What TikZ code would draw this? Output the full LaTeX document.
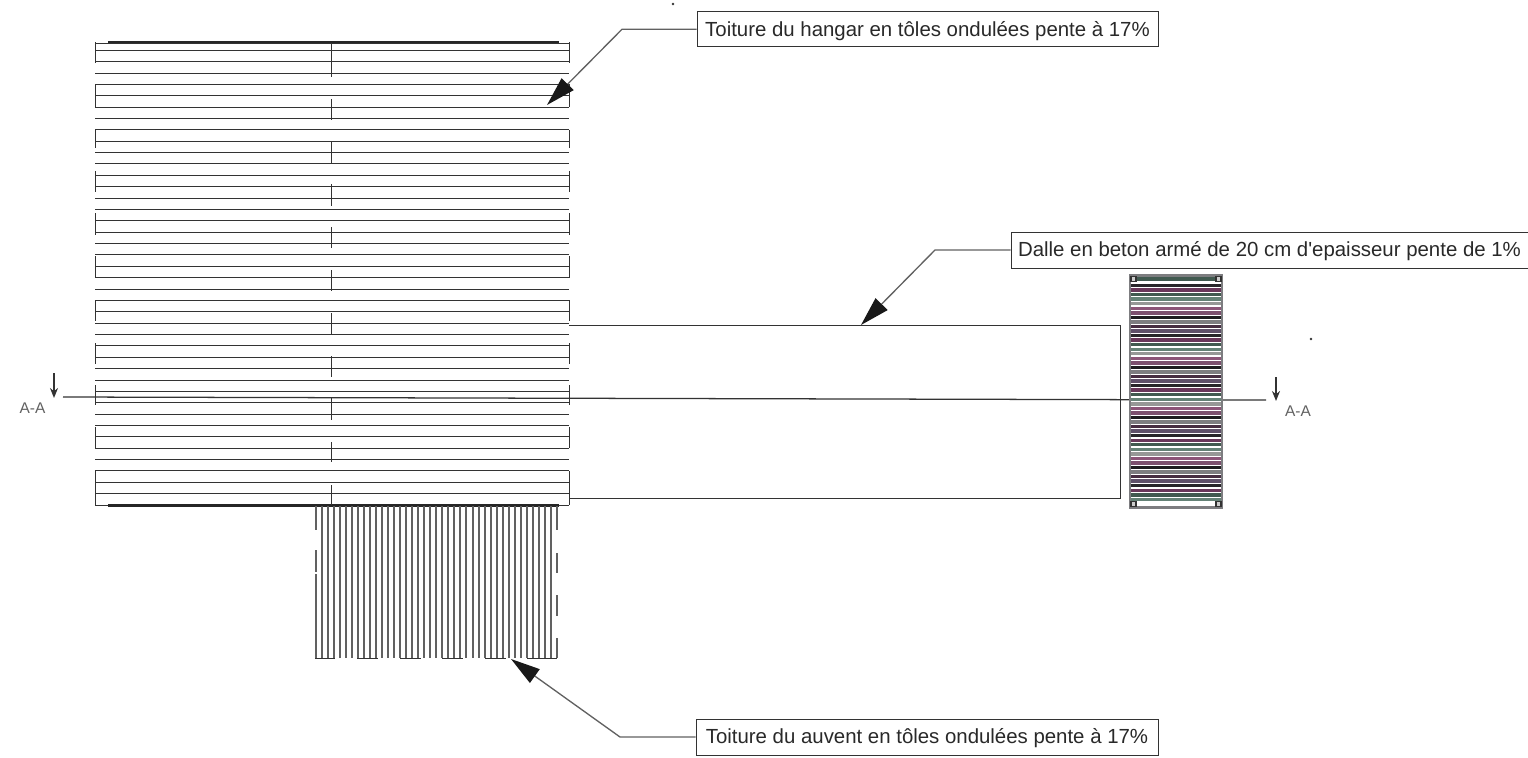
\documentclass[tikz,border=0pt]{standalone}
\usepackage{fontspec}
\setmainfont{Liberation Sans}[Ligatures=TeXOff]
\usetikzlibrary{arrows.meta}
\definecolor{ink}{gray}{0.2}
\definecolor{soft}{gray}{0.38}
\definecolor{txt}{gray}{0.16}
\definecolor{s0}{RGB}{70,45,65}
\definecolor{s1}{RGB}{125,80,110}
\definecolor{s2}{RGB}{100,130,118}
\definecolor{s3}{RGB}{40,38,42}
\definecolor{s4}{RGB}{125,125,128}
\definecolor{s5}{RGB}{140,85,120}
\definecolor{s6}{RGB}{65,90,80}
\definecolor{s7}{RGB}{95,80,105}
\definecolor{s8}{RGB}{30,28,30}
\definecolor{s9}{RGB}{150,152,150}
\definecolor{s10}{RGB}{105,55,90}
\tikzset{
  plan/.style={draw=ink,line width=1.15pt},
  thinplan/.style={draw=soft,line width=1.5pt},
  heavy/.style={draw=black!85,line width=1.7pt},
  labelbox/.style={draw=ink,line width=0.75pt,fill=white,inner sep=0pt,text height=11pt,text depth=0.7pt,font=\fontsize{15.3pt}{18pt}\selectfont,text=txt},
  leader/.style={draw=soft,line width=1pt,-{Triangle[length=22pt,width=12.5pt,color=black!90]}},
  secttext/.style={font=\fontsize{11.6pt}{13pt}\selectfont,text=soft,inner sep=0pt},
  cutarrow/.style={draw=ink,line width=1.2pt,-{Stealth[length=7.5pt,width=6pt]}}
}
\begin{document}
\begin{tikzpicture}[x=0.75pt,y=-0.75pt]
\useasboundingbox (0,0) rectangle (1528,757);
% Hangar roof
\foreach \k in {0,...,40}{
  \pgfmathsetmacro\yy{floor(50.3+11.37*\k)+0.5}
  \draw[plan] (95,\yy) -- (569,\yy);
}
\draw[heavy] (108,42.5) -- (559,42.5);
\draw[plan] (95,43.5) -- (569,43.5);
\draw[heavy] (108,505.5) -- (559,505.5);
\foreach \a/\b in {42/63,84/107,130/148,171/192,213/235,256/278,300/321,343/364,385/405,427/448,471/505}{
  \draw[plan] (95.5,\a) -- (95.5,\b);
  \draw[plan] (569.5,\a) -- (569.5,\b);
}
\foreach \a/\b in {43/77,99/120,141/164,184/206,227/248,270/291,313/334,356/377,398/420,442/462,485/505}{
  \draw[plan] (331.5,\a) -- (331.5,\b);
}
% Auvent roof
\foreach \i in {1,...,39}{
  \pgfmathsetmacro\xx{floor(315+6.04*\i)+0.5}
  \draw[thinplan] (\xx,506) -- (\xx,658);
}
\foreach \a/\b in {506/530,550/572,574/658}{\draw[thinplan] (315.5,\a) -- (315.5,\b);}
\foreach \a/\b in {506/530,553/573,595/616,638/658}{\draw[thinplan] (556.5,\a) -- (556.5,\b);}
\foreach \a/\b in {315/335,357/378,400/421,442/463,485/506,527/557}{\draw[plan] (\a,658.5) -- (\b,658.5);}
% Slab outline
\coordinate (s1) at (569,325.5);
\coordinate (s2) at (1120.5,325.5);
\coordinate (s3) at (1120.5,498.5);
\coordinate (s4) at (569,498.5);
\draw[plan] (s1) -- (s2) -- (s3) -- (s4);
% Section line
\coordinate (cutL) at (63,397);
\coordinate (cutR) at (1266,400);
\draw[draw=ink,line width=0.95pt] (cutL) -- (cutR);
% Striped element
\fill[white] (1130,275) rectangle (1222,508);
\foreach \i in {0,...,47}{
  \pgfmathtruncatemacro\c{mod(\i*7+3,11)}
  \draw[color=s\c,line width=2.55pt] (1131,{285.5+4.55*\i}) -- (1221,{285.5+4.55*\i});
}
\draw[color=s6,line width=3.5pt] (1133,279) -- (1219,279);
\draw[color=s4,line width=1.9pt] (1130,275.5) rectangle (1222,507.5);
\fill[white] (1134,501.5) rectangle (1218,505);
\foreach \cx/\cy in {1133.5/279,1218.5/279,1133.5/504,1218.5/504}{
  \draw[ink,line width=0.8pt,fill=gray!40] (\cx-2.5,\cy-2.5) rectangle (\cx+2.5,\cy+2.5);
}
% Section marks
\coordinate (alt) at (54,373);
\coordinate (alb) at (54,398);
\coordinate (art) at (1276,377);
\coordinate (arb) at (1276,401);
\draw[cutarrow] (alt) -- (alb);
\draw[cutarrow] (art) -- (arb);
\node[secttext] (aL) at (32.5,408.5) {A-A};
\node[secttext] (aR) at (1298,411) {A-A};
% Labels and leaders
\node[labelbox,minimum width=345.75pt,minimum height=26.6pt] (b1) at (927.5,29.25) {Toiture du hangar en tôles ondulées pente à 17\%};
\node[labelbox,minimum width=387.75pt,minimum height=27pt] (b2) at (1269.5,250) {Dalle en beton armé de 20 cm d'epaisseur pente de 1\%};
\node[labelbox,minimum width=346.5pt,minimum height=27pt] (b3) at (927,737) {Toiture du auvent en tôles ondulées pente à 17\%};
\coordinate (k1) at (622,29.25);
\coordinate (t1) at (547,105);
\coordinate (k2) at (935,250);
\coordinate (t2) at (861,325);
\coordinate (k3) at (620,737);
\coordinate (t3) at (511,659);
\draw[leader] (b1.west) -- (k1) -- (t1);
\draw[leader] (b2.west) -- (k2) -- (t2);
\draw[leader] (b3.west) -- (k3) -- (t3);
% Specks
\fill[ink] (673,4) circle (1.3);
\fill[ink] (1311,339) circle (1.3);
\end{tikzpicture}
\end{document}
